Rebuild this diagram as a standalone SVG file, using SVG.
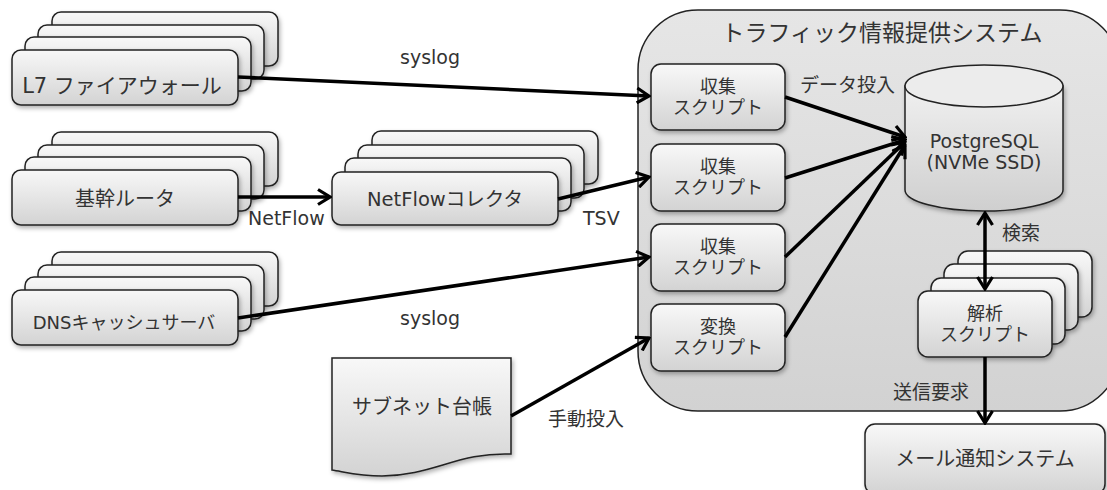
<svg xmlns="http://www.w3.org/2000/svg" width="1107" height="490" viewBox="0 0 1107 490">
<defs>
<linearGradient id="gBox" x1="0" y1="0" x2="0" y2="1"><stop offset="0" stop-color="#f8f8f8"/><stop offset="1" stop-color="#d3d3d3"/></linearGradient>
<linearGradient id="gCont" x1="0" y1="0" x2="0" y2="1"><stop offset="0" stop-color="#e6e6e6"/><stop offset="1" stop-color="#d2d2d2"/></linearGradient>
<linearGradient id="gCyl" x1="0" y1="0" x2="0" y2="1"><stop offset="0" stop-color="#f0f0f0"/><stop offset="1" stop-color="#cfcfcf"/></linearGradient>
<filter id="sh" x="-10%" y="-10%" width="130%" height="140%"><feDropShadow dx="1.5" dy="2.5" stdDeviation="2" flood-color="#000" flood-opacity="0.3"/></filter>
<marker id="ah" markerUnits="userSpaceOnUse" viewBox="0 0 16 18" refX="14" refY="9" markerWidth="16" markerHeight="18" orient="auto-start-reverse"><path d="M2,1.5 L14,9 L2,16.5" fill="none" stroke="#000" stroke-width="3.2" stroke-linejoin="miter"/></marker>
<style>
.box{fill:url(#gBox);stroke:#222;stroke-width:1.5;filter:url(#sh)}
.t{font-family:"DejaVu Sans","Noto Sans CJK JP",sans-serif;fill:#333;text-anchor:middle}
.l{font-family:"DejaVu Sans","Noto Sans CJK JP",sans-serif;fill:#333;font-size:19px}
.c{stroke:#000;stroke-width:3.5;fill:none;marker-end:url(#ah)}
</style>
</defs>
<rect width="1107" height="490" fill="#fff"/>
<g id="system">
<rect x="638" y="10" width="482" height="401" rx="60" ry="60" fill="url(#gCont)" stroke="#222" stroke-width="1.5"/>
<text class="t" x="882" y="41" font-size="23">トラフィック情報提供システム</text>
</g>
<g id="l7fw">
<rect class="box" x="52" y="12" width="226" height="54" rx="9"/>
<rect class="box" x="38" y="25" width="226" height="54" rx="9"/>
<rect class="box" x="25" y="37" width="226" height="54" rx="9"/>
<rect class="box" x="12" y="50" width="226" height="55" rx="9"/>
<text class="t" x="122" y="93" font-size="21">L7 ファイアウォール</text>
</g>
<g id="router">
<rect class="box" x="52" y="132" width="226" height="54" rx="9"/>
<rect class="box" x="38" y="145" width="226" height="54" rx="9"/>
<rect class="box" x="25" y="157" width="226" height="54" rx="9"/>
<rect class="box" x="12" y="170" width="226" height="55" rx="9"/>
<text class="t" x="125" y="206" font-size="20">基幹ルータ</text>
</g>
<g id="dns">
<rect class="box" x="52" y="252" width="226" height="54" rx="9"/>
<rect class="box" x="38" y="265" width="226" height="54" rx="9"/>
<rect class="box" x="25" y="277" width="226" height="54" rx="9"/>
<rect class="box" x="12" y="290" width="226" height="55" rx="9"/>
<text class="t" x="124" y="329" font-size="18">DNSキャッシュサーバ</text>
</g>
<g id="collector">
<rect class="box" x="372" y="131" width="226" height="53" rx="9"/>
<rect class="box" x="358" y="145" width="226" height="53" rx="9"/>
<rect class="box" x="345" y="158" width="226" height="53" rx="9"/>
<rect class="box" x="332" y="172" width="226" height="53" rx="9"/>
<text class="t" x="445" y="206" font-size="19.5">NetFlowコレクタ</text>
</g>
<g id="subnet">
<path class="box" d="M332,358 H511 V454 C458,452 432,476 382,476 C360,476 345,472 332,470 Z"/>
<text class="t" x="422" y="414" font-size="20">サブネット台帳</text>
</g>
<g id="collect1">
<rect class="box" x="651" y="64" width="134" height="66" rx="10"/>
<text class="t" x="718" y="93" font-size="18">収集</text>
<text class="t" x="718" y="114" font-size="18">スクリプト</text>
</g>
<g id="collect2">
<rect class="box" x="651" y="144" width="134" height="67" rx="10"/>
<text class="t" x="718" y="173" font-size="18">収集</text>
<text class="t" x="718" y="194" font-size="18">スクリプト</text>
</g>
<g id="collect3">
<rect class="box" x="651" y="224" width="134" height="67" rx="10"/>
<text class="t" x="718" y="253" font-size="18">収集</text>
<text class="t" x="718" y="274" font-size="18">スクリプト</text>
</g>
<g id="convert">
<rect class="box" x="651" y="304" width="134" height="67" rx="10"/>
<text class="t" x="718" y="333" font-size="18">変換</text>
<text class="t" x="718" y="354" font-size="18">スクリプト</text>
</g>
<g id="postgres">
<path d="M905,86 V190 A79,21 0 0 0 1063,190 V86 Z" fill="url(#gCyl)" stroke="#222" stroke-width="1.5" filter="url(#sh)"/>
<ellipse cx="984" cy="86" rx="79" ry="21" fill="#ececec" stroke="#222" stroke-width="1.5"/>
<text class="t" x="984" y="148" font-size="19">PostgreSQL</text>
<text class="t" x="984" y="169" font-size="19">(NVMe SSD)</text>
</g>
<g id="analysis">
<rect class="box" x="958" y="251" width="134" height="66" rx="10"/>
<rect class="box" x="944" y="264" width="134" height="66" rx="10"/>
<rect class="box" x="931" y="278" width="134" height="66" rx="10"/>
<rect class="box" x="918" y="291" width="134" height="66" rx="10"/>
<text class="t" x="985" y="320" font-size="18">解析</text>
<text class="t" x="985" y="341" font-size="18">スクリプト</text>
</g>
<g id="mail">
<rect class="box" x="865" y="424" width="240" height="70" rx="10"/>
<text class="t" x="985" y="466" font-size="20">メール通知システム</text>
</g>
<g id="connectors">
<path class="c" d="M238,77 L649,96"/>
<path class="c" d="M238,197 L330,197"/>
<path class="c" d="M558,199 L649,177"/>
<path class="c" d="M238,318 L649,257"/>
<path class="c" d="M511,416 L649,338"/>
<path class="c" d="M785,97 L905,137"/>
<path class="c" d="M785,178 L905,140"/>
<path class="c" d="M785,257 L905,142"/>
<path class="c" d="M785,337 L905,145"/>
<path class="c" d="M985,213 L985,289" marker-start="url(#ah)"/>
<path class="c" d="M985,357 L985,423"/>
<text class="l" x="400" y="64">syslog</text>
<text class="l" x="248" y="225">NetFlow</text>
<text class="l" x="583" y="225">TSV</text>
<text class="l" x="400" y="325">syslog</text>
<text class="l" x="548" y="426">手動投入</text>
<text class="l" x="800" y="92">データ投入</text>
<text class="l" x="1002" y="240">検索</text>
<text class="l" x="893" y="399">送信要求</text>
</g>
</svg>
